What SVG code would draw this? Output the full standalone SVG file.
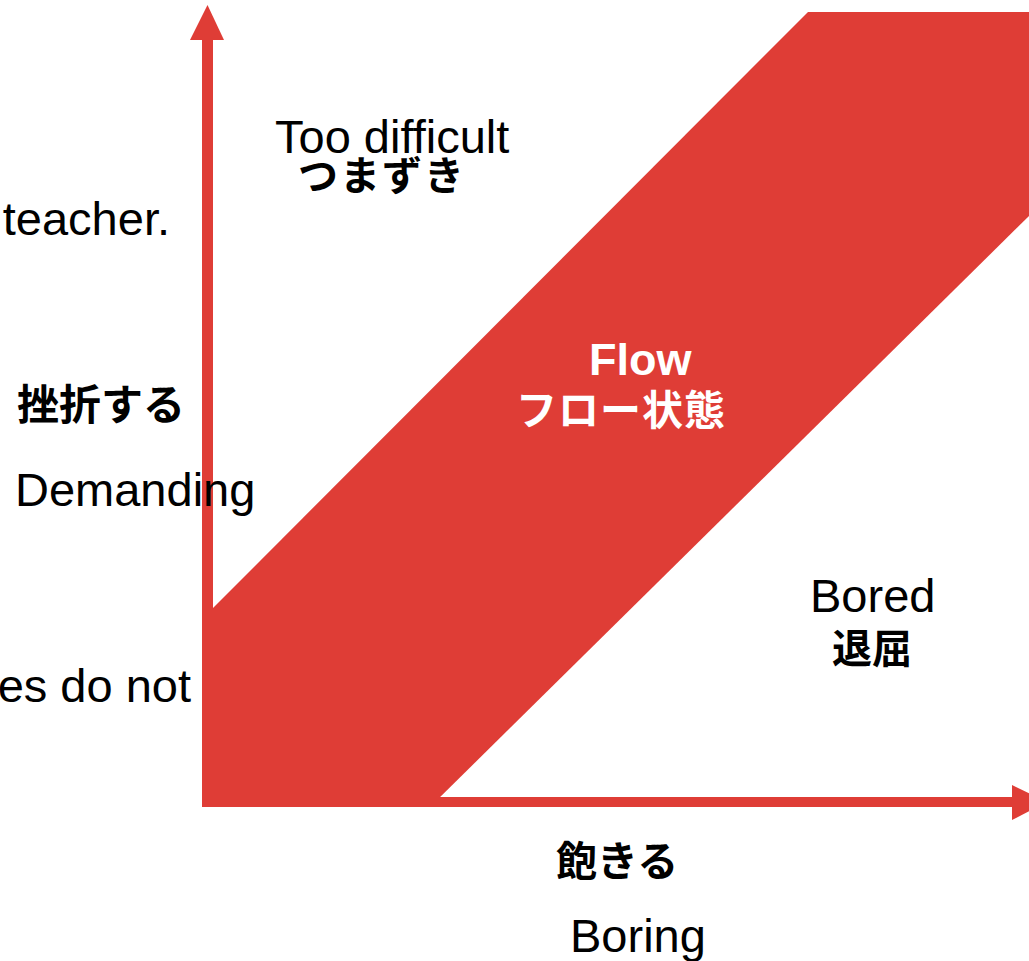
<svg xmlns="http://www.w3.org/2000/svg" width="1029" height="961" viewBox="0 0 1029 961">
<style>
.en{font-family:"Liberation Sans",Arial,sans-serif;font-size:47px;fill:#000;font-variant-ligatures:none}
.ja{font-family:"Noto Sans CJK JP",sans-serif;font-weight:700;fill:#000}
.red{fill:#DF3D36}
</style>
<rect width="1029" height="961" fill="#fff"/>
<g id="flow-band">
<polygon class="red" points="202,619 808,12 1029,12 1029,216 430,807 202,807"/>
</g>
<g id="axes">
<rect class="red" x="202" y="38" width="11" height="769"/>
<polygon class="red" points="207.5,5 190,40 224,40"/>
<rect class="red" x="202" y="797" width="812" height="10"/>
<polygon class="red" points="1012,785 1012,820 1047,802"/>
</g>
<g id="label-too-difficult">
<text class="en" x="275" y="153">Too difficult</text>
<text class="ja" x="298" y="190" font-size="40" letter-spacing="2">つまずき</text>
</g>
<g id="label-flow">
<text x="589" y="375" font-family="Liberation Sans,Arial,sans-serif" font-weight="700" font-size="45" fill="#fff">Flow</text>
<text class="ja" x="516" y="425" font-size="41" letter-spacing="1" style="fill:#fff">フロー状態</text>
</g>
<g id="label-bored">
<text class="en" x="810" y="612">Bored</text>
<text class="ja" x="832" y="663" font-size="40">退屈</text>
</g>
<g id="label-y-axis">
<text class="ja" x="17" y="420" font-size="42">挫折する</text>
<text class="en" x="15" y="506">Demanding</text>
</g>
<g id="label-x-axis">
<text class="ja" x="556" y="876" font-size="41">飽きる</text>
<text class="en" x="570" y="952">Boring</text>
</g>
<g id="cut-text">
<text class="en" x="170" y="235" text-anchor="end">teacher.</text>
<text class="en" x="191" y="702" text-anchor="end">es do not</text>
</g>
</svg>
